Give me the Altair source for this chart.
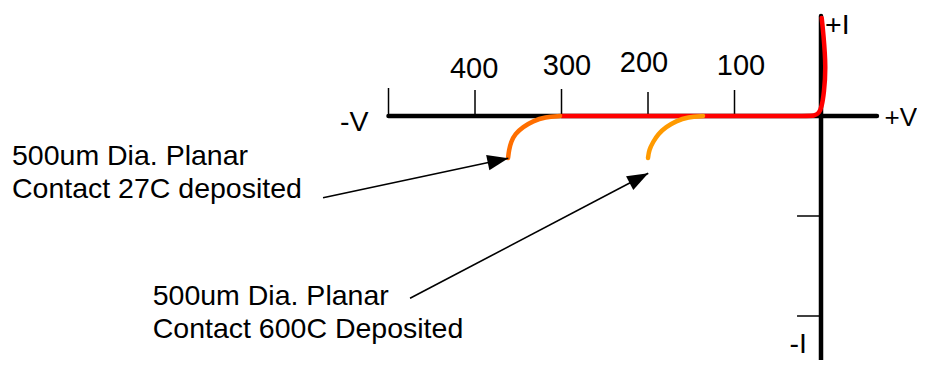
import altair as alt
import pandas as pd

# ---------------- data (V in volts-ish units, I in arbitrary units) ----------------
# horizontal (voltage) axis ticks and their labels
v_ticks = [-500, -400, -300, -200, -100]
v_tick_len = [0.28, 0.26, 0.27, 0.24, 0.26]
v_labels = ["400", "300", "200", "100"]
v_label_pos = [-401, -293.6, -204.6, -92.5]
v_label_base = [0.38, 0.41, 0.44, 0.41]

# vertical (current) axis ticks
i_ticks = [-1, -2]

# axis extents
v_axis = [-500, 64.7]
i_axis = [1.0, -2.6]

# forward-bias red I-V trace
red_v = [-300, -150, -20, -7, -2.3, 0.8, 3.5, 5.8, 2.7, 0.8]
red_i = [0, 0, 0, 0, 0.03, 0.09, 0.23, 0.49, 0.83, 0.98]

# 27C deposited contact breakdown knee
c27_v = [-301.7, -319, -333, -344.5, -353.8, -358.4, -360.7, -361.8]
c27_i = [0, -0.01, -0.05, -0.11, -0.18, -0.26, -0.34, -0.42]

# 600C deposited contact breakdown knee
c600_v = [-136.4, -153.8, -167.6, -179.2, -188.4, -194.2, -198.8, -200]
c600_i = [0, -0.01, -0.05, -0.11, -0.18, -0.26, -0.34, -0.42]

# annotation arrows: start -> tip
arrow_v0 = [-575.7, -475.1]
arrow_i0 = [-0.817, -1.823]
arrow_v1 = [-361.5, -199.7]
arrow_i1 = [-0.423, -0.573]
arrow_angle = [348, 332.3]

# annotation texts
texts = ["500um Dia. Planar", "Contact 27C deposited",
         "500um Dia. Planar", "Contact 600C Deposited",
         "-V", "+V", "+I", "-I"]
text_v = [-935.3, -935.3, -772.6, -772.6, -556, 73.4, 4.6, -36.5]
text_i = [-0.49, -0.82, -1.89, -2.22, -0.15, -0.10, 0.82, -2.37]
text_size = [28.5, 28.5, 28.5, 28.5, 28.5, 26, 28.5, 28.5]

# ---------------- chart ----------------
FONT = "Liberation Sans, Arial, sans-serif"
xs = alt.Scale(domain=[-939.9, 110.98], nice=False, zero=False)
ys = alt.Scale(domain=[-2.44, 1.08], nice=False, zero=False)


def X(f):
    return alt.X(f, type="quantitative", scale=xs, axis=None)


def Y(f):
    return alt.Y(f, type="quantitative", scale=ys, axis=None)


axes_df = pd.DataFrame({
    "v": [v_axis[0], 0], "v2": [v_axis[1], 0],
    "i": [0, i_axis[0]], "i2": [0, i_axis[1]],
})
axes = alt.Chart(axes_df).mark_rule(color="black", strokeWidth=4.5, strokeCap="round").encode(
    x=X("v"), x2="v2", y=Y("i"), y2="i2")

vt_df = pd.DataFrame({"v": v_ticks, "i": [0] * len(v_ticks), "i2": v_tick_len})
vt = alt.Chart(vt_df).mark_rule(color="black", strokeWidth=1.5).encode(
    x=X("v"), y=Y("i"), y2="i2")

it_df = pd.DataFrame({"v": [-27.7] * len(i_ticks), "v2": [0] * len(i_ticks), "i": i_ticks})
it = alt.Chart(it_df).mark_rule(color="black", strokeWidth=1.5).encode(
    x=X("v"), x2="v2", y=Y("i"))

vl_df = pd.DataFrame({"v": v_label_pos, "i": v_label_base, "t": v_labels})
vl = alt.Chart(vl_df).mark_text(font=FONT, fontSize=29, align="center",
                                baseline="alphabetic", color="black").encode(
    x=X("v"), y=Y("i"), text="t:N")


def curve(vs, is_, color):
    df = pd.DataFrame({"v": vs, "i": is_, "o": list(range(len(vs)))})
    return alt.Chart(df).mark_line(color=color, strokeWidth=4.5, strokeCap="round",
                                   interpolate="basis").encode(
        x=X("v"), y=Y("i"), order="o:Q")


red = curve(red_v, red_i, "#FF0000")
c27 = curve(c27_v, c27_i, "#FF6E00")
c600 = curve(c600_v, c600_i, "#FF9A00")

ar_df = pd.DataFrame({"v": arrow_v0, "i": arrow_i0, "v2": arrow_v1, "i2": arrow_i1,
                      "a": arrow_angle})
ar_lines = alt.Chart(ar_df).mark_rule(color="black", strokeWidth=1.6).encode(
    x=X("v"), y=Y("i"), x2="v2", y2="i2")
ar_heads = alt.Chart(ar_df).mark_point(
    shape="M0,0L-1,-0.37L-1,0.37Z", filled=True, color="black", opacity=1,
    size=1764, strokeWidth=0).encode(
    x=X("v2"), y=Y("i2"), angle=alt.Angle("a:Q", scale=None))

tx_df = pd.DataFrame({"v": text_v, "i": text_i, "t": texts, "s": text_size})
tx = alt.Chart(tx_df).mark_text(font=FONT, align="left",
                                baseline="alphabetic", color="black").encode(
    x=X("v"), y=Y("i"), text="t:N", size=alt.Size("s:Q", scale=None, legend=None))

chart = alt.layer(axes, vt, it, vl, red, c27, c600, ar_lines, ar_heads, tx).properties(
    width=909, height=352, autosize=alt.AutoSizeParams(type="none"), padding=0
).configure_view(strokeWidth=0)

chart.save("out.html", embed_options={"renderer": "svg", "actions": False})
